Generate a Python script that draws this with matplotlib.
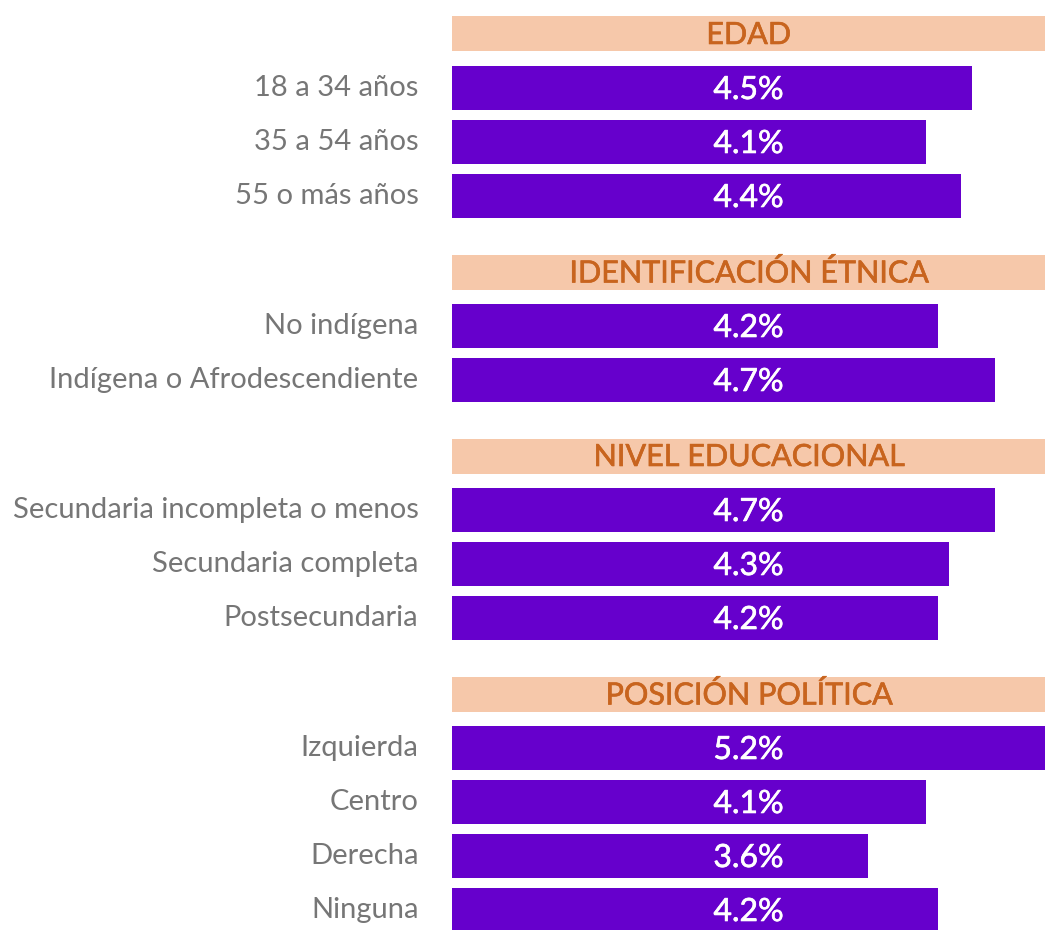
import matplotlib.pyplot as plt
import matplotlib.patheffects as pe

# data
groups = ["EDAD", "IDENTIFICACIÓN ÉTNICA", "NIVEL EDUCACIONAL", "POSICIÓN POLÍTICA"]
edad_labels = ["18 a 34 años", "35 a 54 años", "55 o más años"]
edad_values = [4.5, 4.1, 4.4]
etnia_labels = ["No indígena", "Indígena o Afrodescendiente"]
etnia_values = [4.2, 4.7]
educ_labels = ["Secundaria incompleta o menos", "Secundaria completa", "Postsecundaria"]
educ_values = [4.7, 4.3, 4.2]
pol_labels = ["Izquierda", "Centro", "Derecha", "Ninguna"]
pol_values = [5.2, 4.1, 3.6, 4.2]

group_labels = [edad_labels, etnia_labels, educ_labels, pol_labels]
group_values = [edad_values, etnia_values, educ_values, pol_values]

bar_color = "#6600CC"
band_color = "#F6C8AA"
head_color = "#C8641E"
label_color = "#767676"

plt.rcParams['font.family'] = ['Lato', 'DejaVu Sans']

fig = plt.figure(figsize=(10.45, 9.3), dpi=100)
ax = fig.add_axes([452 / 1045, 0, 593 / 1045, 1])
xmax = 593 / 115.6
ax.set_xlim(0, xmax)
ax.set_ylim(930, 0)
ax.axis('off')

# slightly heavier than regular (no semibold Lato available)
head_fx = [pe.withStroke(linewidth=0.45, foreground=head_color)]
val_fx = [pe.withStroke(linewidth=0.45, foreground='white')]

# layout in pixel units
pitch = 54
gap = 22
y = 34
for g, labels, values in zip(groups, group_labels, group_values):
    ax.barh(y, xmax, height=35, color=band_color)
    ax.text(xmax / 2, y + 1, g, color=head_color, fontsize=22,
            ha='center', va='center', path_effects=head_fx)
    for lab, v in zip(labels, values):
        y += pitch
        ax.barh(y, v, height=44, color=bar_color)
        ax.text(xmax / 2, y + 2, f"{v}%", color='white', fontsize=23,
                ha='center', va='center', path_effects=val_fx)
        ax.text(-0.29, y, lab, color=label_color, fontsize=21,
                ha='right', va='center', clip_on=False)
    y += pitch + gap

fig.savefig("out.png", dpi=100)
